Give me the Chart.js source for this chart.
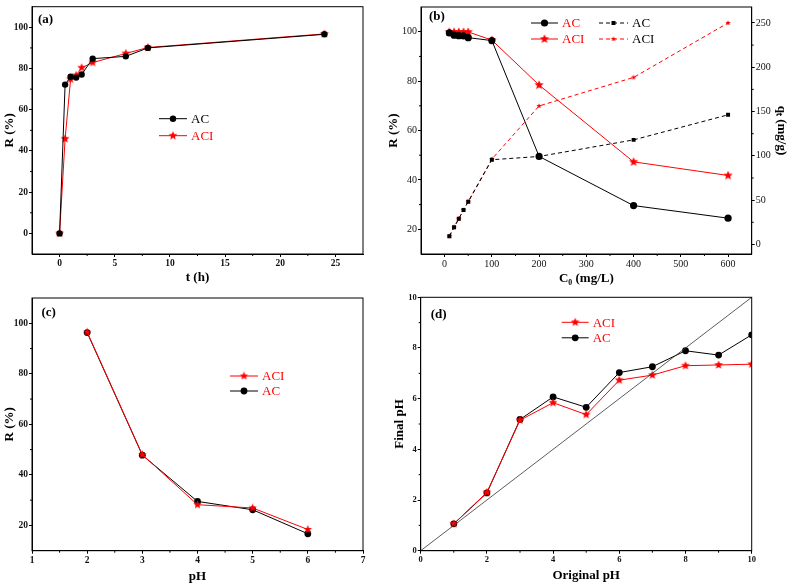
<!DOCTYPE html>
<html>
<head>
<meta charset="utf-8">
<script src="https://cdn.jsdelivr.net/npm/chart.js@4.4.0/dist/chart.umd.min.js"></script>
<style>
  body { margin: 0; background: #fff; }
  #wrap { position: relative; width: 789px; height: 584px; overflow: hidden; }
  canvas { position: absolute; }
</style>
</head>
<body>
<div id="wrap">
  <canvas id="chartA" width="380" height="290" style="left:0;top:0"></canvas>
  <canvas id="chartB" width="409" height="290" style="left:380px;top:0"></canvas>
  <canvas id="chartC" width="380" height="294" style="left:0;top:290px"></canvas>
  <canvas id="chartD" width="409" height="294" style="left:380px;top:290px"></canvas>
</div>
<script>
// (a) contact time
const timeH = [0, 0.5, 1, 1.5, 2, 3, 6, 8, 24];
const acTimeR = [0, 72.2, 76.0, 75.6, 77.1, 84.8, 85.9, 90.0, 96.6];
const aciTimeR = [0, 45.9, 74.8, 76.7, 80.4, 82.9, 87.3, 90.2, 96.8];

// (b) initial concentration
const c0 = [10, 20, 30, 40, 50, 100, 200, 400, 600];
const acR = [99.5, 98.6, 98.4, 98.3, 97.6, 96.4, 49.5, 29.6, 24.5];
const aciR = [99.9, 99.9, 99.9, 99.9, 99.9, 96.6, 78.4, 47.3, 41.8];
const acQ = [9.3, 19.3, 28.9, 38.9, 48.1, 95.6, 99.3, 118, 146.3];
const aciQ = [9.5, 19.5, 29.0, 39.0, 48.5, 96.3, 156.3, 188.5, 250];

// (c) pH effect
const phC = [2, 3, 4, 5, 6];
const acPhR = [96.3, 47.8, 29.5, 26.2, 16.7];
const aciPhR = [96.5, 48.0, 28.2, 26.9, 18.4];

// (d) final pH
const phInit = [1, 2, 3, 4, 5, 6, 7, 8, 9, 10];
const acFinal = [1.06, 2.28, 5.18, 6.07, 5.66, 7.03, 7.26, 7.89, 7.72, 8.52];
const aciFinal = [1.06, 2.30, 5.15, 5.84, 5.37, 6.73, 6.93, 7.30, 7.33, 7.36];
const diagX = [0, 10];
const diagY = [0, 10];

// tick labels
const ticksTime = [0, 5, 10, 15, 20, 25];
const ticksR = [0, 20, 40, 60, 80, 100];
const ticksC0 = [0, 100, 200, 300, 400, 500, 600];
const ticksR2 = [20, 40, 60, 80, 100];
const ticksQ = [0, 50, 100, 150, 200, 250];
const ticksPh = [1, 2, 3, 4, 5, 6, 7];
const ticksPh2 = [0, 2, 4, 6, 8, 10];

const FONT = '"Liberation Serif", "Times New Roman", serif';
const RED = '#ff0000';

const xy = (xs, ys) => xs.map((x, i) => ({ x: x, y: ys[i] }));

function starImg(r, color) {
  const c = document.createElement('canvas');
  const s = Math.ceil(2 * r + 2);
  c.width = s; c.height = s;
  const g = c.getContext('2d');
  g.fillStyle = color;
  g.beginPath();
  for (let i = 0; i < 10; i++) {
    const rad = i % 2 ? r * 0.45 : r;
    const a = -Math.PI / 2 + i * Math.PI / 5;
    g.lineTo(s / 2 + rad * Math.cos(a), s / 2 + rad * Math.sin(a));
  }
  g.closePath();
  g.fill();
  return c;
}

function axis(o) {
  const horiz = o.pos === 'bottom';
  return {
    type: 'linear', position: o.pos, min: o.min, max: o.max,
    afterBuildTicks: s => { s.ticks = o.ticks.map(v => ({ value: v })); },
    afterFit: s => { if (horiz) s.height = o.size; else s.width = o.size; },
    grid: { drawOnChartArea: false, drawTicks: true, tickLength: 3, color: '#000', lineWidth: 1 },
    border: { display: true, color: '#000', width: 1 },
    ticks: {
      color: '#111', padding: 1, autoSkip: false, maxRotation: 0,
      font: { family: FONT, size: o.tickSize, weight: o.bold ? 'bold' : 'normal' }
    },
    title: {
      display: true, text: o.title, color: '#000',
      font: { family: FONT, size: 13, weight: 'bold' },
      padding: { top: o.tpad, bottom: o.tpad }
    }
  };
}

const panelDeco = {
  id: 'panelDeco',
  afterDraw(chart, args, opts) {
    const ctx = chart.ctx;
    const a = chart.chartArea;
    ctx.save();
    ctx.strokeStyle = '#000';
    ctx.lineWidth = 1;
    ctx.strokeRect(a.left, a.top, a.right - a.left, a.bottom - a.top);

    // minor ticks halfway between the major ones
    Object.values(chart.scales).forEach(s => {
      const vals = s.ticks.map(t => t.value);
      if (vals.length < 2) return;
      const st = vals[1] - vals[0];
      const mids = [];
      for (let i = 0; i < vals.length - 1; i++) mids.push((vals[i] + vals[i + 1]) / 2);
      if (vals[0] - st / 2 > s.min) mids.push(vals[0] - st / 2);
      if (vals[vals.length - 1] + st / 2 < s.max) mids.push(vals[vals.length - 1] + st / 2);
      mids.forEach(v => {
        const p = s.getPixelForValue(v);
        ctx.beginPath();
        if (s.position === 'bottom') { ctx.moveTo(p, a.bottom); ctx.lineTo(p, a.bottom + 2); }
        else if (s.position === 'left') { ctx.moveTo(a.left, p); ctx.lineTo(a.left - 2, p); }
        else { ctx.moveTo(a.right, p); ctx.lineTo(a.right + 2, p); }
        ctx.stroke();
      });
    });

    // panel label
    ctx.fillStyle = '#000';
    ctx.font = 'bold 13px ' + FONT;
    ctx.textBaseline = 'middle';
    ctx.textAlign = 'left';
    ctx.fillText(opts.label, a.left + opts.labelX, a.top + opts.labelY);

    // legend
    ctx.font = '13px ' + FONT;
    opts.items.forEach(it => {
      const y = a.top + it.y;
      const x1 = a.left + it.x, x2 = x1 + it.len;
      ctx.strokeStyle = it.color;
      ctx.setLineDash(it.dash || []);
      ctx.beginPath(); ctx.moveTo(x1, y); ctx.lineTo(x2, y); ctx.stroke();
      ctx.setLineDash([]);
      const mx = (x1 + x2) / 2;
      ctx.fillStyle = it.color;
      if (it.marker === 'circle') {
        ctx.beginPath(); ctx.arc(mx, y, it.r, 0, Math.PI * 2); ctx.fill();
      } else if (it.marker === 'rect') {
        ctx.fillRect(mx - it.r, y - it.r, it.r * 2, it.r * 2);
      } else {
        const img = starImg(it.r, it.color);
        ctx.drawImage(img, mx - img.width / 2, y - img.height / 2);
      }
      ctx.fillStyle = it.textColor;
      ctx.fillText(it.label, x2 + 4, y + 1);
    });
    ctx.restore();
  }
};

function lineSet(label, data, color, style, r, extra) {
  return Object.assign({
    label: label, data: data, borderColor: color, backgroundColor: color,
    borderWidth: 1, tension: 0, fill: false,
    pointStyle: style, pointRadius: r, pointHoverRadius: r,
    pointBackgroundColor: color, pointBorderColor: color, pointBorderWidth: 0
  }, extra || {});
}

function baseOptions(padding, scales, deco) {
  return {
    responsive: false, animation: false, events: [],
    layout: { padding: padding },
    plugins: { legend: { display: false }, tooltip: { enabled: false }, panelDeco: deco },
    scales: scales
  };
}

// (a)
new Chart(document.getElementById('chartA'), {
  type: 'line',
  data: { datasets: [
    lineSet('AC', xy(timeH, acTimeR), '#000', 'circle', 3.2),
    lineSet('ACI', xy(timeH, aciTimeR), RED, starImg(4.6, RED), 4.6)
  ] },
  options: baseOptions({ top: 3, right: 17 }, {
    x: axis({ pos: 'bottom', min: -2.5, max: 27.5, ticks: ticksTime, size: 36, tickSize: 9.5, bold: true, title: 't (h)', tpad: 4.5 }),
    y: axis({ pos: 'left', min: -10, max: 110, ticks: ticksR, size: 32, tickSize: 9.5, bold: true, title: 'R (%)', tpad: 2 })
  }, {
    label: '(a)', labelX: 6, labelY: 13,
    items: [
      { label: 'AC', x: 127, y: 112, len: 28, color: '#000', textColor: '#000', marker: 'circle', r: 3.2 },
      { label: 'ACI', x: 127, y: 129, len: 28, color: RED, textColor: RED, marker: 'star', r: 4.6 }
    ]
  }),
  plugins: [panelDeco]
});

// (b)
new Chart(document.getElementById('chartB'), {
  type: 'line',
  data: { datasets: [
    lineSet('AC', xy(c0, acR), '#000', 'circle', 3.6, { yAxisID: 'y' }),
    lineSet('AC q', xy(c0, acQ), '#000', 'rect', 2.8, { yAxisID: 'y1', borderDash: [4, 3] }),
    lineSet('ACI', xy(c0, aciR), RED, starImg(4.8, RED), 4.8, { yAxisID: 'y' }),
    lineSet('ACI q', xy(c0, aciQ), RED, starImg(2.8, RED), 2.8, { yAxisID: 'y1', borderDash: [4, 3] })
  ] },
  options: baseOptions({ top: 3 }, {
    x: axis({ pos: 'bottom', min: -50, max: 650, ticks: ticksC0, size: 36, tickSize: 10, bold: false, title: 'C\u2080 (mg/L)', tpad: 3.2 }),
    y: axis({ pos: 'left', min: 10, max: 110, ticks: ticksR2, size: 41, tickSize: 10, bold: false, title: 'R (%)', tpad: 5.5 }),
    y1: axis({ pos: 'right', min: -10.8, max: 268, ticks: ticksQ, size: 37.3, tickSize: 10, bold: false, title: 'q\u209c (mg/g)', tpad: 0 })
  }, {
    label: '(b)', labelX: 8, labelY: 10,
    items: [
      { label: 'AC', x: 110, y: 16, len: 27, color: '#000', textColor: RED, marker: 'circle', r: 3.6 },
      { label: 'ACI', x: 110, y: 32, len: 27, color: RED, textColor: RED, marker: 'star', r: 4.8 },
      { label: 'AC', x: 178, y: 16, len: 29, color: '#000', textColor: '#000', marker: 'rect', r: 2, dash: [4, 3] },
      { label: 'ACI', x: 178, y: 32, len: 29, color: RED, textColor: '#000', marker: 'star', r: 2.8, dash: [4, 3] }
    ]
  }),
  plugins: [panelDeco]
});

// (c)
new Chart(document.getElementById('chartC'), {
  type: 'line',
  data: { datasets: [
    lineSet('ACI', xy(phC, aciPhR), RED, starImg(4.4, RED), 4.4),
    lineSet('AC', xy(phC, acPhR), '#000', 'circle', 3.4)
  ] },
  options: baseOptions({ top: 8, right: 17 }, {
    x: axis({ pos: 'bottom', min: 1, max: 7, ticks: ticksPh, size: 33.3, tickSize: 9.5, bold: true, title: 'pH', tpad: 0 }),
    y: axis({ pos: 'left', min: 10, max: 110, ticks: ticksR2, size: 32, tickSize: 9.5, bold: true, title: 'R (%)', tpad: 2 })
  }, {
    label: '(c)', labelX: 9.5, labelY: 15,
    items: [
      { label: 'ACI', x: 198, y: 78, len: 28, color: RED, textColor: RED, marker: 'star', r: 4.4 },
      { label: 'AC', x: 198, y: 93, len: 28, color: '#000', textColor: RED, marker: 'circle', r: 3.4 }
    ]
  }),
  plugins: [panelDeco]
});

// (d)
new Chart(document.getElementById('chartD'), {
  type: 'line',
  data: { datasets: [
    lineSet('y=x', xy(diagX, diagY), '#333', 'circle', 0, { borderWidth: 0.8 }),
    lineSet('ACI', xy(phInit, aciFinal), RED, starImg(4.6, RED), 4.6),
    lineSet('AC', xy(phInit, acFinal), '#000', 'circle', 3.4)
  ] },
  options: baseOptions({ top: 7.3, right: 37.3 }, {
    x: axis({ pos: 'bottom', min: 0, max: 10, ticks: ticksPh2, size: 33.3, tickSize: 8.5, bold: true, title: 'Original pH', tpad: 0.2 }),
    y: axis({ pos: 'left', min: 0, max: 10, ticks: ticksPh2, size: 40.7, tickSize: 8.5, bold: true, title: 'Final pH', tpad: 11.5 })
  }, {
    label: '(d)', labelX: 10, labelY: 17,
    items: [
      { label: 'ACI', x: 141, y: 25, len: 27, color: RED, textColor: RED, marker: 'star', r: 4.6 },
      { label: 'AC', x: 141, y: 40.5, len: 27, color: '#000', textColor: RED, marker: 'circle', r: 3.4 }
    ]
  }),
  plugins: [panelDeco]
});
</script>
</body>
</html>
